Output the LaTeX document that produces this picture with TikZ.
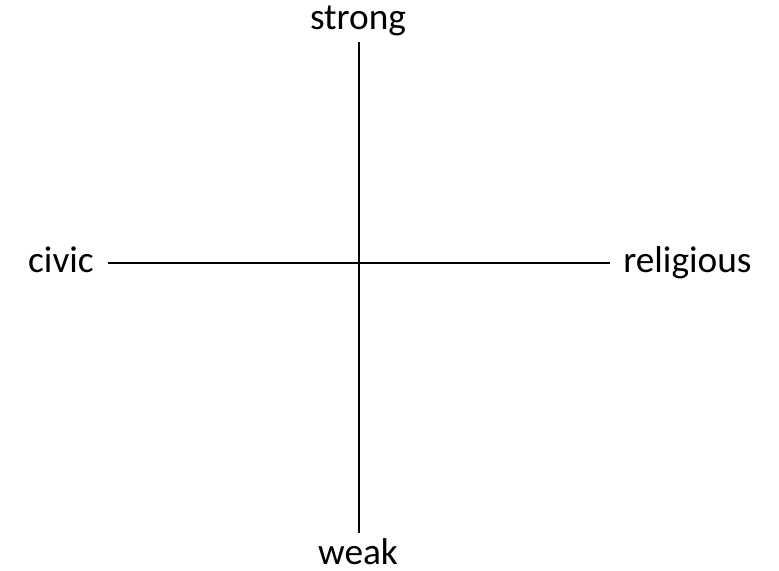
\documentclass[tikz,border=0pt]{standalone}
\usepackage{fontspec}
\setmainfont{Carlito}
\tikzset{
  axislabel/.style={inner sep=0pt, font=\fontsize{28}{34}\selectfont},
  axisline/.style={line width=1.5pt}
}
\begin{document}
\begin{tikzpicture}[x=0.75pt,y=0.75pt]
\useasboundingbox (0,0) rectangle (779,571);
\coordinate (top) at (359,529);
\coordinate (bottom) at (359,38);
\coordinate (left) at (108,308);
\coordinate (right) at (610,308);
\draw[axisline] (top) -- (bottom);
\draw[axisline] (left) -- (right);
\node[axislabel, anchor=base] (strong) at (358,541) {strong};
\node[axislabel, anchor=base] (weak) at (358,6) {weak};
\node[axislabel, anchor=base east] (civic) at (94,298) {civic};
\node[axislabel, anchor=base west] (religious) at (623,298) {religious};
\end{tikzpicture}
\end{document}
